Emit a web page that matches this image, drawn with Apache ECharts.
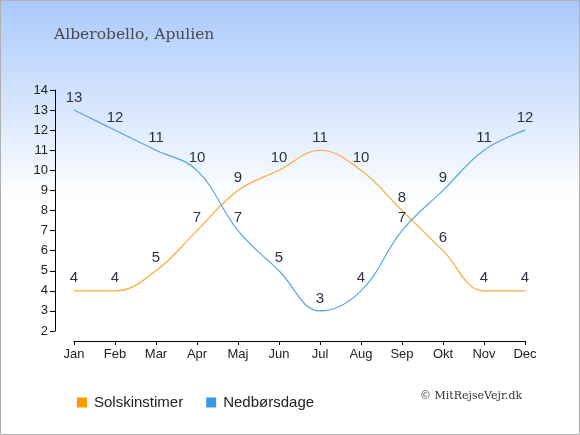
<!DOCTYPE html>
<html><head><meta charset="utf-8">
<script src="https://cdn.jsdelivr.net/npm/echarts@6/dist/echarts.min.js"></script>
<style>html,body{margin:0;padding:0;}#c{width:580px;height:435px;}</style>
</head><body><div id="c"></div>
<script>
const months = ['Jan','Feb','Mar','Apr','Maj','Jun','Jul','Aug','Sep','Okt','Nov','Dec'];
const sunHours = [4,4,5,7,9,10,11,10,8,6,4,4];
const rainDays = [13,12,11,10,7,5,3,4,7,9,11,12];
const yTicks = {min:2, max:14, interval:1};

const chart = echarts.init(document.getElementById('c'));
const labelStyle = {show:true, position:'top', distance:5, color:'#2b3245', fontSize:15, fontFamily:'Liberation Sans, Arial, sans-serif'};
chart.setOption({
  animation:false,
  backgroundColor:{type:'linear',x:0,y:0,x2:0,y2:1,colorStops:[{offset:0,color:'#a9c9fb'},{offset:0.46,color:'#ffffff'},{offset:1,color:'#ffffff'}]},
  title:{text:'Alberobello, Apulien', left:49, top:22, textStyle:{fontFamily:'DejaVu Serif, serif', fontWeight:'normal', fontSize:15.5, color:'#4a4a4a'}},
  grid:{left:74, right:55, top:90, bottom:104},
  legend:{left:72, top:390, itemWidth:10, itemHeight:10, itemGap:23, icon:'rect',
    textStyle:{fontSize:15, color:'#222', fontFamily:'Liberation Sans, Arial, sans-serif', padding:[0,0,0,2]},
    data:['Solskinstimer','Nedbørsdage']},
  xAxis:{type:'category', data:months, boundaryGap:false, offset:10,
    axisLine:{lineStyle:{color:'#000'}}, axisTick:{length:4, lineStyle:{color:'#000'}},
    axisLabel:{color:'#222', fontSize:13, margin:7, fontFamily:'Liberation Sans, Arial, sans-serif'}},
  yAxis:{type:'value', min:yTicks.min, max:yTicks.max, interval:yTicks.interval, offset:19,
    splitLine:{show:false},
    axisLine:{show:true, lineStyle:{color:'#000'}}, axisTick:{show:true, length:5, lineStyle:{color:'#000'}},
    axisLabel:{color:'#222', fontSize:13, margin:7, fontFamily:'Liberation Sans, Arial, sans-serif'}},
  graphic:[
    {type:'text', left:420, top:391, style:{text:'© MitRejseVejr.dk', fontFamily:'DejaVu Serif, serif', fontSize:11, fill:'#333'}},
    {type:'rect', shape:{x:0.5,y:0.5,width:579,height:434}, style:{fill:'none', stroke:'#b0b0b0', lineWidth:1}, silent:true}
  ],
  series:[
    {name:'Solskinstimer', type:'line', data:sunHours, smooth:0.4, symbol:'circle', symbolSize:0,
      itemStyle:{color:'#ff9900'}, lineStyle:{color:'#fbaa3a', width:1.2}, label:labelStyle},
    {name:'Nedbørsdage', type:'line', data:rainDays, smooth:0.4, symbol:'circle', symbolSize:0,
      itemStyle:{color:'#3b97e6'}, lineStyle:{color:'#55a5ec', width:1.2}, label:labelStyle}
  ]
});
</script></body></html>
